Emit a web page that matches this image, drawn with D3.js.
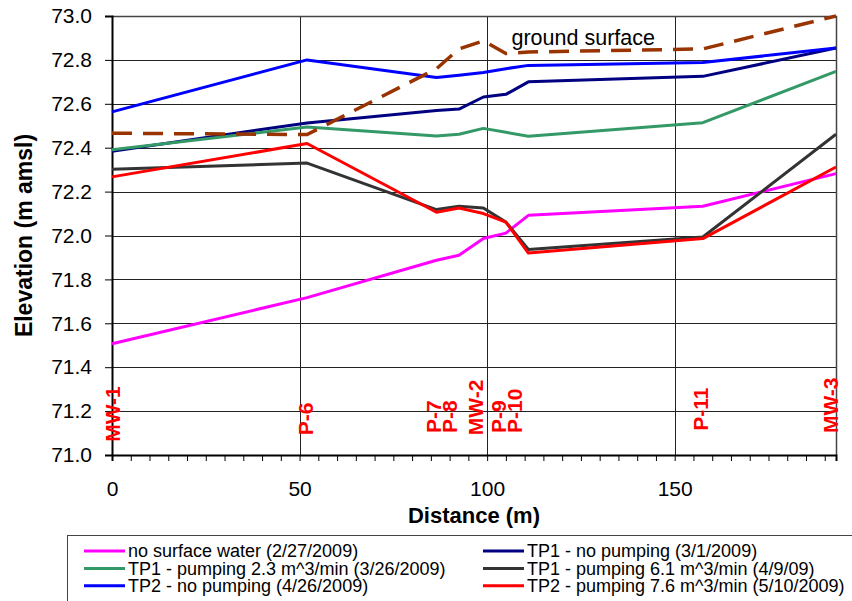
<!DOCTYPE html>
<html>
<head>
<meta charset="utf-8">
<script src="https://cdn.jsdelivr.net/npm/d3@7"></script>
<style>
body { margin: 0; background: #fff; }
text { font-family: "Liberation Sans", Arial, sans-serif; }
</style>
</head>
<body>
<script>
// distance along the transect (m)
var distance = [0, 52, 86.5, 92.5, 99, 105, 111, 157.5, 193];

// well names + where their labels sit (label x in m, label bottom in m amsl)
var wellNames = ["MW-1", "P-6", "P-7", "P-8", "MW-2", "P-9", "P-10", "P-11", "MW-3"];
var wellLabelX = [0, 51.5, 85.8, 89.9, 96.9, 103, 107.3, 156.8, 191.6];
var wellLabelY = [71.06, 71.09, 71.1, 71.1, 71.09, 71.1, 71.1, 71.11, 71.1];

// water levels (m amsl)
var noSurfaceWater = [71.507, 71.717, 71.887, 71.910, 71.986, 72.011, 72.092, 72.133, 72.282];
var tp1NoPump = [72.384, 72.513, 72.570, 72.576, 72.631, 72.643, 72.700, 72.725, 72.854];
var tp1Pump23 = [72.391, 72.494, 72.453, 72.461, 72.488, 72.470, 72.452, 72.514, 72.748];
var tp1Pump61 = [72.302, 72.330, 72.118, 72.133, 72.125, 72.061, 71.936, 71.993, 72.461];
var tp2NoPump = [72.563, 72.800, 72.720, 72.730, 72.743, 72.760, 72.775, 72.788, 72.854];
var tp2Pump76 = [72.267, 72.419, 72.106, 72.125, 72.100, 72.061, 71.920, 71.986, 72.312];
var groundSurface = [72.466, 72.460, 72.760, 72.850, 72.887, 72.829, 72.836, 72.850, 73.0];

var seriesNames = [
    "no surface water (2/27/2009)",
    "TP1 - no pumping (3/1/2009)",
    "TP1 - pumping 2.3 m^3/min (3/26/2009)",
    "TP1 - pumping 6.1 m^3/min (4/9/09)",
    "TP2 - no pumping (4/26/2009)",
    "TP2 - pumping 7.6 m^3/min (5/10/2009)"
];
var seriesValues = [noSurfaceWater, tp1NoPump, tp1Pump23, tp1Pump61, tp2NoPump, tp2Pump76];
var seriesColors = ["#ff00ff", "#000080", "#339966", "#333333", "#0000ff", "#ff0000"];

var yTicks = [71.0, 71.2, 71.4, 71.6, 71.8, 72.0, 72.2, 72.4, 72.6, 72.8, 73.0];
var xTicks = [0, 50, 100, 150];

// plot area (note: "top" is taken by window.top, so prefix these)
var W = 852, H = 601;
var pLeft = 112, pRight = 836, pTop = 16, pBottom = 455;

var x = d3.scaleLinear().domain([0, 193]).range([pLeft, pRight]);
var y = d3.scaleLinear().domain([71, 73]).range([pBottom, pTop]);

var svg = d3.select("body").append("svg")
    .attr("width", W)
    .attr("height", H);

// grid
svg.append("g").selectAll("line")
    .data(yTicks.slice(1, -1))
    .enter().append("line")
    .attr("x1", pLeft).attr("x2", pRight)
    .attr("y1", function(d){return Math.round(y(d)) + 0.5;})
    .attr("y2", function(d){return Math.round(y(d)) + 0.5;})
    .attr("stroke", "#222").attr("stroke-width", 1);

svg.append("g").selectAll("line")
    .data(xTicks.slice(1))
    .enter().append("line")
    .attr("y1", pTop).attr("y2", pBottom)
    .attr("x1", function(d){return Math.round(x(d)) + 0.5;})
    .attr("x2", function(d){return Math.round(x(d)) + 0.5;})
    .attr("stroke", "#222").attr("stroke-width", 1);

// top / right frame
svg.append("path")
    .attr("d", "M" + pLeft + "," + (pTop + 0.5) + "H" + (pRight + 0.5) + "V" + pBottom)
    .attr("fill", "none")
    .attr("stroke", "#444")
    .attr("stroke-width", 1.5);

// axes
var yAxis = d3.axisLeft(y).tickValues(yTicks).tickSize(7).tickPadding(13)
    .tickFormat(d3.format(".1f"));
var gy = svg.append("g").attr("transform", "translate(" + pLeft + ",0)").call(yAxis);
gy.select(".domain").attr("stroke", "#000").attr("stroke-width", 2);
gy.selectAll(".tick line").attr("stroke", "#000");
gy.selectAll("text").attr("font-size", 21).attr("fill", "#000")
    .attr("font-family", "Liberation Sans, Arial, sans-serif");

var xMinor = d3.range(0, 193, 5);
var xAxis = d3.axisBottom(x).tickValues(xMinor).tickSize(6).tickPadding(20)
    .tickFormat(function(d){return xTicks.indexOf(d) >= 0 ? d : "";});
var gx = svg.append("g").attr("transform", "translate(0," + pBottom + ")").call(xAxis);
gx.select(".domain").attr("stroke", "#000").attr("stroke-width", 2);
gx.selectAll(".tick line").attr("stroke", "#000");
gx.selectAll("text").attr("font-size", 21).attr("fill", "#000")
    .attr("font-family", "Liberation Sans, Arial, sans-serif");

// axis titles
svg.append("text")
    .attr("transform", "translate(32," + ((pTop + pBottom) / 2) + ") rotate(-90)")
    .attr("text-anchor", "middle")
    .attr("font-size", 23)
    .attr("font-weight", "bold")
    .text("Elevation (m amsl)");

svg.append("text")
    .attr("x", (pLeft + pRight) / 2)
    .attr("y", 523)
    .attr("text-anchor", "middle")
    .attr("font-size", 22)
    .attr("font-weight", "bold")
    .text("Distance (m)");

// water level lines
var line = d3.line()
    .x(function(d, i){return x(distance[i]);})
    .y(function(d){return y(d);});

svg.append("g").selectAll("path")
    .data(seriesValues)
    .enter().append("path")
    .attr("d", line)
    .attr("fill", "none")
    .attr("stroke", function(d, i){return seriesColors[i];})
    .attr("stroke-width", 3)
    .attr("stroke-linejoin", "round");

svg.append("path")
    .attr("d", line(groundSurface))
    .attr("fill", "none")
    .attr("stroke", "#993300")
    .attr("stroke-width", 3.5)
    .attr("stroke-dasharray", "20,11");

svg.append("text")
    .attr("x", x(106.5))
    .attr("y", y(72.867))
    .attr("font-size", 21.5)
    .text("ground surface");

// well labels
svg.append("g").selectAll("text")
    .data(wellNames)
    .enter().append("text")
    .attr("transform", function(d, i){
        return "translate(" + x(wellLabelX[i]) + "," + y(wellLabelY[i]) + ") rotate(-90)";
    })
    .attr("dy", "0.36em")
    .attr("font-size", 21)
    .attr("font-weight", "bold")
    .attr("fill", "#ff0000")
    .text(function(d){return d;});

// legend
var legend = svg.append("g");
legend.append("rect")
    .attr("x", 67.5).attr("y", 535.5)
    .attr("width", 800).attr("height", 80)
    .attr("fill", "#fff")
    .attr("stroke", "#444")
    .attr("stroke-width", 1);

var item = legend.selectAll("g.item")
    .data(seriesNames)
    .enter().append("g")
    .attr("class", "item")
    .attr("transform", function(d, i){
        var col = i % 2, row = Math.floor(i / 2);
        return "translate(" + (col == 0 ? 84 : 483) + "," + (551 + row * 17.4) + ")";
    });

item.append("line")
    .attr("x1", 0).attr("x2", 41)
    .attr("stroke", function(d, i){return seriesColors[i];})
    .attr("stroke-width", 3);

item.append("text")
    .attr("x", 44)
    .attr("dy", "0.35em")
    .attr("font-size", 18)
    .text(function(d){return d;});
</script>
</body>
</html>
